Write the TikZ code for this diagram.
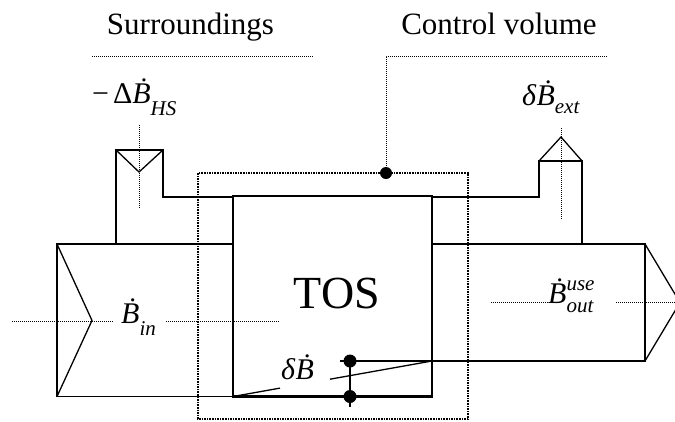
\documentclass[tikz,border=0pt]{standalone}
\usepackage{fontspec}
\setmainfont{Liberation Serif}
\usetikzlibrary{calc}
\newcommand{\bdot}{\textit{\.B}}
\newcommand{\mainsz}{\fontsize{30}{30}\selectfont}
\newcommand{\subsz}{\fontsize{21}{21}\selectfont\itshape}
\begin{document}
\begin{tikzpicture}[x=1pt,y=-1pt,
  thinline/.style={line width=1.3pt,line join=miter},
  thickline/.style={line width=2.8pt},
  dotline/.style={line width=0.9pt,dash pattern=on 1pt off 1pt},
  cvline/.style={line width=1.9pt,dash pattern=on 1.6pt off 1pt},
  blob/.style={circle,fill=black,inner sep=0pt,minimum size=13pt},
  lab/.style={inner sep=0pt,anchor=base west},
  big/.style={inner sep=0pt,anchor=base,font=\fontsize{31}{31}\selectfont},
]
\useasboundingbox (0,0) rectangle (675,421);

% key coordinates
\coordinate (tosNW) at (233,196);
\coordinate (tosSE) at (432,396.5);
\coordinate (tosSW) at (233,396.5);
\coordinate (tosR) at (432,361);

% input arrow
\draw[thinline] (233,244) -- (57,244) -- (57,396.5) -- (tosSW);
\draw[thinline] (57,244) -- (92,320.5) -- (57,396.5);

% heat stub (left)
\draw[thinline] (116,244) -- (116,150) -- (163,150) -- (163,197) -- (233,197);
\draw[thinline] (116,150) -- (139,172) -- (163,150);

% work stub (right)
\draw[thinline] (432,197) -- (539,197) -- (539,161) -- (582,161) -- (582,244);
\draw[thinline] (539,161) -- (561,137) -- (582,161);

% output arrow
\draw[thinline] (432,244) -- (645,244) -- (645,361) -- (340,361);
\draw[thinline] (645,244) -- (680,302.5) -- (645,361);

% exergy destruction line with gap for label
\draw[thinline] (tosR) -- ($(tosR)!0.5126!(tosSW)$);
\draw[thinline] ($(tosR)!0.7638!(tosSW)$) -- (tosSW);
\draw[thinline] (350,356) -- (350,407);
\node[blob] (d1) at (350,361) {};
\node[blob] (d2) at (350,396.5) {};

% TOS box
\draw[thickline] (tosNW) rectangle (tosSE);
\node[inner sep=0pt,anchor=base,font=\fontsize{46}{46}\selectfont] (tos) at (337,308) {TOS};

% control volume
\draw[cvline] (198,173) rectangle (468,419);

% dotted guide lines
\draw[dotline] (12,321) -- (114,321);
\draw[dotline] (166,321) -- (280,321);
\draw[dotline] (139,125) -- (139,209);
\draw[dotline] (561,128) -- (561,220);
\draw[dotline] (491,302) -- (551,302);
\draw[dotline] (616,302) -- (675,302);
\draw[dotline] (92,56) -- (313,56);
\coordinate (cvend) at (607,56);
\coordinate (cvdot) at (386,173);
\draw[dotline] (cvend) -- (386,56) -- (cvdot);
\node[blob,minimum size=12pt] (cvd) at (cvdot) {};

% titles
\node[big] (sur) at (190.5,34) {Surroundings};
\node[big] (cv) at (499,34) {Control volume};

% math labels
\node[lab] (bin) at (121,323) {\mainsz\bdot\subsz\raisebox{-12pt}{in}};
\node[lab] (bhs) at (92,103) {\mainsz −\hspace{4pt}Δ\bdot\subsz\raisebox{-12pt}{HS}};
\node[lab] (bext) at (522,105) {\mainsz\textit{δ}\bdot\subsz\raisebox{-8pt}{ext}};
\node[lab] (bout) at (548,303) {\mainsz\bdot\subsz\rlap{\raisebox{13pt}{use}}\raisebox{-9pt}{out}};
\node[lab] (bd) at (281,379) {\mainsz\textit{δ}\bdot};
\end{tikzpicture}
\end{document}
